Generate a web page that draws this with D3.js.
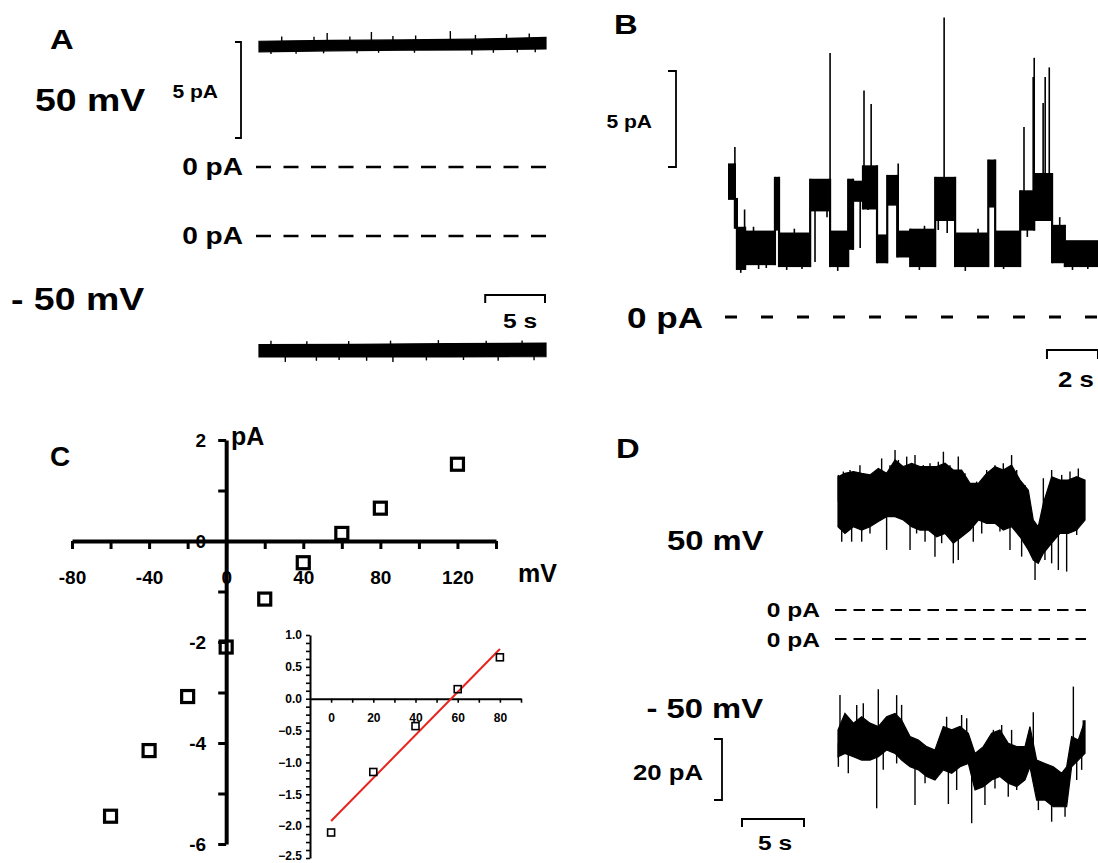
<!DOCTYPE html>
<html>
<head>
<meta charset="utf-8">
<script src="https://cdn.jsdelivr.net/npm/d3@7"></script>
<style>
  body { margin: 0; background: #fff; }
  svg { display: block; }
  text { font-family: "Liberation Sans", Arial, sans-serif; font-weight: bold; fill: #000; }
</style>
</head>
<body>
<script>
// ---------- data ----------
// A: single channel records, envelope [t (s), hi (pA), lo (pA)], spikes [t, pA]
var aTopTrace = [[0, 6.55, 6.0], [6, 6.6, 6.05], [12, 6.62, 6.08], [18, 6.66, 6.1], [24, 6.75, 6.15]];
var aTopSpikes = [
  [1.9, 6.8], [4.6, 6.78], [5.7, 6.98], [7.6, 6.8], [9.4, 7.03], [11.2, 6.82], [13.1, 6.85], [16.0, 7.08],
  [18.1, 6.88], [20.7, 6.92], [22.6, 6.95],
  [1.0, 5.88], [3.1, 5.9], [5.4, 5.92], [8.2, 5.93], [10.0, 5.95], [13.0, 5.95], [17.8, 5.85], [19.6, 5.95],
  [21.6, 5.97], [23.1, 5.98]
];
var aBotTrace = [[0, -5.66, -6.3], [8, -5.64, -6.3], [16, -5.6, -6.3], [24, -5.58, -6.28]];
var aBotSpikes = [
  [1.0, -5.45], [4.0, -5.48], [7.5, -5.47], [11.0, -5.45], [15.0, -5.42], [19.0, -5.45], [22.0, -5.44],
  [2.2, -6.56], [4.8, -6.5], [6.7, -6.46], [9.0, -6.5], [11.2, -6.56], [14.0, -6.48], [17.1, -6.46],
  [20.0, -6.5], [23.0, -6.47]
];

// B: dwell segments [t0, t1, hi, lo] and fast events [t, pA]
var bSegments = [
  [0, 0.27, 8.0, 6.1], [0.27, 0.35, 6.2, 4.6], [0.35, 0.67, 4.7, 2.45], [0.67, 1.84, 4.5, 2.7],
  [1.84, 2.0, 7.3, 4.5], [2.0, 3.22, 4.4, 2.6], [3.22, 4.0, 7.2, 5.5], [4.0, 4.71, 4.5, 2.6],
  [4.71, 4.9, 7.2, 3.5], [4.9, 5.29, 7.1, 6.0], [5.29, 5.84, 7.9, 5.6], [5.84, 6.24, 4.3, 2.8],
  [6.24, 6.63, 7.4, 5.8], [6.63, 7.14, 4.5, 3.1], [7.14, 8.12, 4.6, 2.6], [8.12, 8.9, 7.3, 5.0],
  [8.9, 10.2, 4.4, 2.6], [10.2, 10.47, 8.2, 5.7], [10.47, 11.45, 4.5, 2.6], [11.45, 12.0, 6.6, 4.5],
  [12.0, 12.7, 7.5, 5.0], [12.7, 13.2, 4.8, 2.8], [13.2, 14.5, 4.0, 2.6]
];
var bSpikes = [
  [0.27, 8.85], [0.65, 5.6], [4.0, 13.75], [5.33, 11.8], [5.61, 11.1], [6.67, 8.0], [8.47, 15.6],
  [11.6, 9.9], [11.96, 12.5], [12.0, 13.5], [12.35, 11.15], [12.43, 12.5], [12.59, 13.0],
  [3.41, 2.86], [3.88, 5.2], [5.18, 3.6], [5.49, 5.57], [8.24, 4.53], [8.59, 4.38], [11.73, 4.17],
  [0.5, 2.3], [1.2, 2.5], [1.5, 2.55], [2.3, 2.45], [2.9, 2.5], [4.3, 2.4], [7.5, 2.45], [9.3, 2.4],
  [10.8, 2.5], [13.5, 2.45], [14.1, 2.5], [1.0, 4.7], [2.6, 4.6], [7.7, 4.75], [9.8, 4.6], [13.0, 5.2]
];

// C: I-V relation
var ivVoltage = [-60, -40, -20, 0, 20, 40, 60, 80, 120];
var ivCurrent = [-5.45, -4.15, -3.08, -2.1, -1.15, -0.43, 0.15, 0.65, 1.52];
var insetVoltage = [0, 20, 40, 60, 80];
var insetCurrent = [-2.1, -1.15, -0.43, 0.15, 0.65];
var fitLine = [[0, -1.92], [80, 0.78]];
var mainXLabels = [-80, -40, 0, 40, 80, 120];
var mainYLabels = [2, 0, -2, -4, -6];
var insetXLabels = [0, 20, 40, 60, 80];
var insetYLabels = [1.0, 0.5, 0.0, -0.5, -1.0, -1.5, -2.0, -2.5];

// D: envelope [t, hi, lo] and spikes [t, pA]
var dTopTrace = [
  [0, 43.7, 27.3], [0.56, 44.8, 25.1], [1.24, 45.4, 27.3], [1.91, 44.8, 26.2], [2.58, 44.3, 27.3],
  [3.25, 46.4, 29.0], [3.92, 44.8, 30.6], [4.6, 49.2, 30.6], [5.27, 47.0, 29.5], [5.94, 48.1, 27.3],
  [6.61, 47.0, 26.2], [7.28, 47.0, 26.2], [7.96, 47.0, 24.0], [8.63, 48.1, 25.1], [9.3, 45.9, 21.9],
  [9.97, 45.9, 24.0], [10.65, 41.5, 26.2], [11.32, 41.5, 29.5], [11.99, 44.8, 28.4], [12.66, 47.0, 28.4],
  [13.33, 45.9, 26.2], [14.0, 47.5, 27.3], [14.68, 42.6, 24.0], [15.35, 39.3, 19.7], [15.75, 29.5, 16.4],
  [16.15, 27.3, 15.3], [16.56, 35.0, 18.6], [17.23, 43.7, 21.9], [17.9, 42.6, 25.1], [18.57, 42.6, 25.1],
  [19.25, 43.7, 26.2], [19.92, 42.6, 29.5]
];
var dTopSpikes = [
  [0.03, 44.3], [0.43, 45.4], [0.97, 45.9], [1.77, 47.5], [2.31, 44.3], [2.85, 44.8], [3.52, 49.7],
  [4.19, 47.5], [4.6, 52.5], [4.87, 49.2], [5.54, 50.3], [6.21, 50.8], [6.88, 47.5], [7.42, 48.1],
  [8.09, 48.6], [8.5, 51.9], [9.03, 47.5], [9.7, 50.3], [10.24, 44.8], [11.18, 42.1], [11.99, 45.9],
  [12.66, 47.5], [13.33, 48.1], [14.0, 50.8], [14.41, 45.9], [15.08, 41.0], [16.56, 43.2], [17.23, 45.9],
  [18.04, 44.3], [18.71, 45.4], [19.38, 46.4],
  [0.3, 22.4], [1.1, 22.4], [1.91, 22.4], [2.58, 25.1], [3.92, 19.7], [5.81, 19.7], [6.34, 25.1],
  [7.02, 22.4], [7.82, 17.5], [8.36, 21.9], [9.3, 15.3], [9.7, 16.4], [10.91, 22.4], [11.59, 25.1],
  [13.06, 25.7], [13.87, 19.7], [14.81, 17.5], [15.89, 9.8], [16.69, 16.4], [17.23, 15.3], [17.77, 13.1],
  [18.44, 12.6], [19.25, 24.6]
];
var dBotTrace = [
  [0, -29.8, -38.6], [0.56, -24.4, -37.5], [1.24, -27.6, -38.6], [1.91, -25.5, -39.7], [2.58, -27.6, -39.7],
  [3.25, -28.7, -38.6], [3.92, -25.5, -36.4], [4.6, -24.4, -37.5], [5.13, -26.6, -39.7], [5.81, -32.0, -41.9],
  [6.48, -33.1, -42.9], [7.15, -35.3, -45.1], [7.82, -36.4, -46.2], [8.49, -28.7, -42.9], [9.17, -29.8, -44.0],
  [9.84, -28.7, -41.9], [10.51, -30.9, -40.8], [11.05, -37.5, -49.5], [11.72, -35.3, -48.4], [12.39, -30.9, -46.2],
  [13.06, -29.8, -45.1], [13.73, -34.2, -47.3], [14.41, -35.3, -48.4], [15.08, -35.3, -46.2], [15.48, -28.7, -41.9],
  [16.02, -39.7, -52.8], [16.69, -40.8, -52.8], [17.36, -41.9, -55.0], [18.04, -44.0, -55.0], [18.44, -41.9, -55.0],
  [18.84, -32.0, -41.9], [19.38, -33.1, -39.7], [19.92, -26.6, -37.5]
];
var dBotSpikes = [
  [0.16, -18.4], [1.51, -21.6], [2.04, -21.1], [3.25, -16.5], [4.73, -18.4], [5.13, -21.6], [8.76, -25.5],
  [9.97, -24.9], [10.38, -26.0], [12.53, -29.8], [13.2, -28.2], [14.0, -29.8], [15.75, -24.0], [18.98, -15.6],
  [19.78, -26.6],
  [0.03, -41.9], [0.83, -44.0], [3.12, -55.5], [3.65, -42.9], [4.73, -40.8], [6.21, -54.4], [7.02, -47.3],
  [8.9, -54.1], [9.57, -49.5], [10.78, -60.4], [11.85, -54.4], [12.66, -49.0], [13.73, -51.7], [14.41, -49.5],
  [16.16, -56.1], [17.23, -59.9], [18.31, -58.3], [19.25, -46.2], [19.65, -42.9]
];

// ---------- drawing ----------
var svg = d3.select("body").append("svg").attr("width", 1098).attr("height", 863);
var SX = 1.17; // trace panel lettering is drawn a bit wide

function label(x, y, txt, size, anchor, sx) {
  return svg.append("text")
    .attr("transform", "translate(" + x + "," + y + ") scale(" + (sx || 1) + ",1)")
    .attr("text-anchor", anchor || "start")
    .attr("font-size", size)
    .text(txt);
}

function trace(env, spikes, x, y) {
  var area = d3.area().x(d => x(d[0])).y0(d => y(d[2])).y1(d => y(d[1]));
  svg.append("path").datum(env).attr("d", area)
    .attr("fill", "#000").attr("stroke", "#000").attr("stroke-width", 1.2);
  var near = d3.bisector(d => d[0]).center;
  svg.append("g").selectAll("line").data(spikes).join("line")
    .attr("x1", d => x(d[0])).attr("x2", d => x(d[0]))
    .attr("y1", d => { var e = env[near(env, d[0])]; return y((e[1] + e[2]) / 2); })
    .attr("y2", d => y(d[1]))
    .attr("stroke", "#000").attr("stroke-width", 1.4);
}

function zeroLine(x0, x1, yy, dash, w) {
  svg.append("line").attr("x1", x0).attr("x2", x1).attr("y1", yy).attr("y2", yy)
    .attr("stroke", "#000").attr("stroke-width", w).attr("stroke-dasharray", dash);
}

function vBar(x, y0, y1, tick) {
  svg.append("path")
    .attr("d", "M" + (x - tick) + "," + y0 + "H" + x + "V" + y1 + "H" + (x - tick))
    .attr("fill", "none").attr("stroke", "#000").attr("stroke-width", 1.8);
}

function hBar(x0, x1, y, tick) {
  svg.append("path")
    .attr("d", "M" + x0 + "," + (y + tick) + "V" + y + "H" + x1 + "V" + (y + tick))
    .attr("fill", "none").attr("stroke", "#000").attr("stroke-width", 2);
}

// ----- panel A -----
var xA = d3.scaleLinear().domain([0, 24]).range([259, 546]);
var yATop = d3.scaleLinear().domain([0, 5]).range([167, 71]);
var yABot = d3.scaleLinear().domain([0, 5]).range([236, 140]);
trace(aTopTrace, aTopSpikes, xA, yATop);
trace(aBotTrace, aBotSpikes, xA, yABot);
zeroLine(256, 546, yATop(0), "15,12.5", 2.5);
zeroLine(256, 546, yABot(0), "15,12.5", 2.5);
vBar(241, 42, 42 + yATop(0) - yATop(5), 6);
hBar(545 - (xA(5) - xA(0)), 545, 295, 8);
label(50, 49, "A", 28, "start", SX);
label(35, 111, "50 mV", 32, "start", SX);
label(11, 310, "- 50 mV", 32, "start", SX);
label(218, 98, "5 pA", 18, "end", SX);
label(243, 175, "0 pA", 24, "end", SX);
label(243, 244, "0 pA", 24, "end", SX);
label(503, 328, "5 s", 21, "start", SX);

// ----- panel B -----
var xB = d3.scaleLinear().domain([0, 14.5]).range([728, 1098]);
var yB = d3.scaleLinear().domain([0, 5]).range([317, 221]);
svg.append("g").selectAll("rect").data(bSegments).join("rect")
  .attr("x", d => xB(d[0])).attr("width", d => xB(d[1]) - xB(d[0]) + 0.6)
  .attr("y", d => yB(d[2])).attr("height", d => yB(d[3]) - yB(d[2]))
  .attr("fill", "#000");
// level transitions between consecutive dwells
svg.append("g").selectAll("line").data(d3.pairs(bSegments)).join("line")
  .attr("x1", d => xB(d[1][0])).attr("x2", d => xB(d[1][0]))
  .attr("y1", d => yB(Math.max(d[0][2], d[1][2])))
  .attr("y2", d => yB(Math.min(d[0][3], d[1][3])))
  .attr("stroke", "#000").attr("stroke-width", 2.2);
svg.append("g").selectAll("line").data(bSpikes).join("line")
  .attr("x1", d => xB(d[0])).attr("x2", d => xB(d[0]))
  .attr("y1", d => {
    var s = bSegments.find(g => d[0] >= g[0] && d[0] < g[1]) || bSegments[bSegments.length - 1];
    return yB((s[2] + s[3]) / 2);
  })
  .attr("y2", d => yB(d[1]))
  .attr("stroke", "#000").attr("stroke-width", 1.6);
zeroLine(725, 1098, yB(0), "12,24", 3);
vBar(676, 71, 71 + yB(0) - yB(5), 8);
hBar(1098 - (xB(2) - xB(0)), 1098, 350, 9);
label(614, 34, "B", 28, "start", SX);
label(652, 128, "5 pA", 18, "end", SX);
label(627, 328, "0 pA", 30, "start", SX);
label(1058, 387, "2 s", 22, "start", SX);

// ----- panel C -----
var xC = d3.scaleLinear().domain([-80, 140]).range([72, 496]);
var yC = d3.scaleLinear().domain([-6, 2]).range([844, 440]);

var gx = svg.append("g").attr("transform", "translate(0," + yC(0) + ")")
  .call(d3.axisBottom(xC).tickValues(d3.range(-80, 141, 20)).tickSize(8).tickSizeOuter(0).tickPadding(22)
    .tickFormat(d => mainXLabels.indexOf(d) >= 0 ? d : ""));
var gy = svg.append("g").attr("transform", "translate(" + xC(0) + ",0)")
  .call(d3.axisLeft(yC).tickValues(d3.range(-6, 2.5, 1)).tickSize(8).tickSizeOuter(0).tickPadding(12)
    .tickFormat(d => mainYLabels.indexOf(d) >= 0 ? d : ""));
[gx, gy].forEach(g => {
  g.select(".domain").attr("stroke-width", 4);
  g.selectAll(".tick line").attr("stroke-width", 3);
  g.selectAll(".tick text").attr("font-size", 19).attr("font-family", "Liberation Sans, Arial, sans-serif")
    .attr("font-weight", "bold").attr("fill", "#000");
});

svg.append("g").selectAll("rect").data(ivVoltage).join("rect")
  .attr("x", (d, i) => xC(d) - 6).attr("y", (d, i) => yC(ivCurrent[i]) - 6)
  .attr("width", 12).attr("height", 12)
  .attr("fill", "none").attr("stroke", "#000").attr("stroke-width", 3.2);

label(50, 466, "C", 28);
label(231, 445, "pA", 25);
label(518, 582, "mV", 25);

// inset
var xI = d3.scaleLinear().domain([-10, 90]).range([310, 521]);
var yI = d3.scaleLinear().domain([-2.5, 1]).range([858, 635]);
var insetFont = "Liberation Sans Narrow, Arial Narrow, Liberation Sans, sans-serif";
var ix = svg.append("g").attr("transform", "translate(0," + yI(0) + ")")
  .call(d3.axisBottom(xI).tickValues(d3.range(0, 91, 10)).tickSize(4).tickSizeOuter(0).tickPadding(11)
    .tickFormat(d => insetXLabels.indexOf(d) >= 0 ? d : ""));
var iy = svg.append("g").attr("transform", "translate(" + xI(-10) + ",0)")
  .call(d3.axisLeft(yI).tickValues(d3.range(-2.5, 1.01, 0.125)).tickSize(4).tickSizeOuter(0).tickPadding(4)
    .tickFormat(d => insetYLabels.some(v => Math.abs(v - d) < 1e-6) ? d3.format(".1f")(d) : ""));
[ix, iy].forEach(g => {
  g.select(".domain").attr("stroke-width", 2);
  g.selectAll(".tick line").attr("stroke-width", 1.6);
  g.selectAll(".tick text").attr("font-size", 12).attr("font-family", insetFont)
    .attr("font-weight", "bold").attr("fill", "#000");
});
// lowest label sits at the figure's bottom edge; lift it slightly so it stays whole
iy.selectAll(".tick text").filter(d => Math.abs(d + 2.5) < 1e-6).attr("dy", "0.1em");

svg.append("path").datum(fitLine)
  .attr("d", d3.line().x(d => xI(d[0])).y(d => yI(d[1])))
  .attr("stroke", "#e8231d").attr("stroke-width", 2).attr("fill", "none");
svg.append("g").selectAll("rect").data(insetVoltage).join("rect")
  .attr("x", d => xI(d) - 3.5).attr("y", (d, i) => yI(insetCurrent[i]) - 3.5)
  .attr("width", 7).attr("height", 7)
  .attr("fill", "none").attr("stroke", "#000").attr("stroke-width", 1.6);

// ----- panel D -----
var xD = d3.scaleLinear().domain([0, 20]).range([838, 1086]);
var yDTop = d3.scaleLinear().domain([0, 20]).range([610, 549]);
var yDBot = d3.scaleLinear().domain([0, 20]).range([639, 578]);
trace(dTopTrace, dTopSpikes, xD, yDTop);
trace(dBotTrace, dBotSpikes, xD, yDBot);
zeroLine(835, 1086, yDTop(0), "11.5,7", 2);
zeroLine(835, 1086, yDBot(0), "11.5,7", 2);
vBar(722, 739, 739 + yDTop(0) - yDTop(20), 8);
hBar(742, 742 + xD(5) - xD(0), 819, 8);
label(616, 458, "D", 28, "start", SX);
label(667, 550, "50 mV", 28, "start", SX);
label(763, 718, "- 50 mV", 28, "end", SX);
label(820, 617, "0 pA", 21, "end", SX);
label(820, 647, "0 pA", 21, "end", SX);
label(703, 780, "20 pA", 22, "end", SX);
label(758, 850, "5 s", 21, "start", SX);
</script>
</body>
</html>
